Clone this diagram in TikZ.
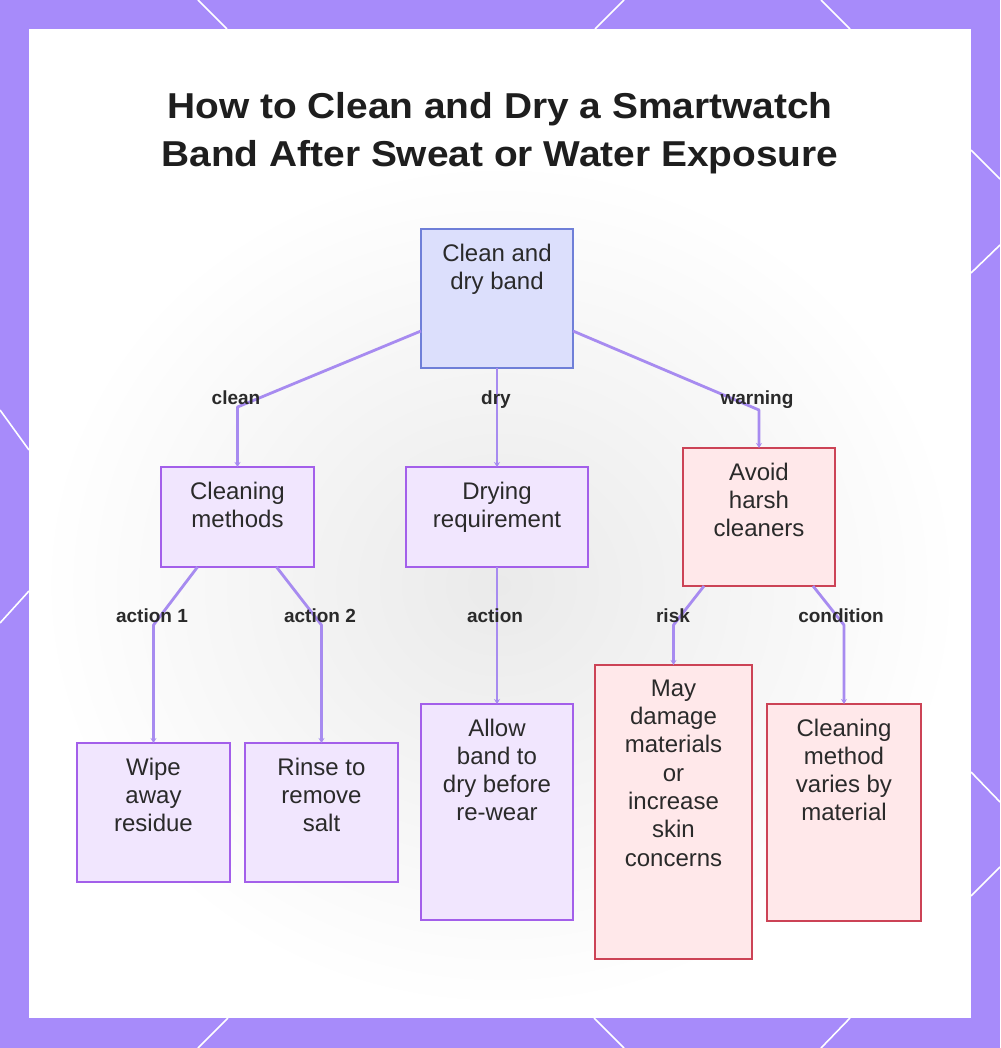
\documentclass[tikz,border=0pt]{standalone}
\usepackage{fontspec}
\setmainfont{Liberation Sans}
\newfontfamily\titlefont[FakeStretch=1.08]{Liberation Sans}
\usetikzlibrary{arrows.meta}
\definecolor{bgpurple}{HTML}{A78BFA}
\definecolor{rootfill}{HTML}{DCDFFC}
\definecolor{rootdraw}{HTML}{6F7FD8}
\definecolor{purfill}{HTML}{F1E6FE}
\definecolor{purdraw}{HTML}{A35FEA}
\definecolor{redfill}{HTML}{FFE8EA}
\definecolor{reddraw}{HTML}{CC4356}
\definecolor{edgecol}{HTML}{A78BF0}
\definecolor{ink}{HTML}{2A2A2A}
\definecolor{titleink}{HTML}{1E1E1E}
\definecolor{haze}{HTML}{EAEAEA}
\begin{document}
\begin{tikzpicture}[x=1pt,y=-1pt,
  boxbase/.style={rectangle, line width=2.7pt, inner sep=0pt, outer sep=0pt, anchor=north west},
  rootbox/.style={boxbase, fill=rootfill, draw=rootdraw},
  purbox/.style={boxbase, fill=purfill, draw=purdraw},
  redbox/.style={boxbase, fill=redfill, draw=reddraw},
  txt/.style={font=\fontsize{24}{28.3}\selectfont, text=ink, align=center, inner sep=0pt, anchor=north},
  lbl/.style={font=\fontsize{19}{22}\selectfont\bfseries, text=ink, inner sep=0pt, anchor=base},
  edge/.style={draw=edgecol, line width=2.8pt, line join=round, -{Stealth[length=5pt,width=6pt]}},
  deco/.style={draw=white, line width=1.6pt},
  title/.style={font=\titlefont\fontsize{36}{48}\selectfont\bfseries, text=titleink, align=center, inner sep=0pt, anchor=north}
]
\useasboundingbox (0,0) rectangle (1000,1048);
\fill[bgpurple] (0,0) rectangle (1000,1048);
% border decoration lines
\draw[deco] (198,0) -- (227,29);
\draw[deco] (624,0) -- (595,29);
\draw[deco] (821,0) -- (850,29);
\draw[deco] (228,1018) -- (198,1048);
\draw[deco] (594,1018) -- (624,1048);
\draw[deco] (850,1018) -- (821,1048);
\draw[deco] (0,410) -- (29,450);
\draw[deco] (29,591) -- (0,623);
\draw[deco] (971,150) -- (1000,179);
\draw[deco] (971,273) -- (1000,245);
\draw[deco] (971,772) -- (1000,802);
\draw[deco] (971,896) -- (1000,867);
% panel
\fill[white] (29,29) rectangle (971,1018);
\fill[inner color=haze, outer color=white] (40,160) rectangle (960,1010);

% title
\node[title] (title) at (500,92) {How to Clean and Dry a Smartwatch\\Band After Sweat or Water Exposure};

% boxes
\node[rootbox, minimum width=152pt, minimum height=139pt] (root) at (421,229) {};
\node[purbox, minimum width=153pt, minimum height=100pt] (cm) at (161,467) {};
\node[purbox, minimum width=182pt, minimum height=100pt] (dr) at (406,467) {};
\node[redbox, minimum width=152pt, minimum height=138pt] (av) at (683,448) {};
\node[purbox, minimum width=153pt, minimum height=139pt] (wp) at (77,743) {};
\node[purbox, minimum width=153pt, minimum height=139pt] (rs) at (245,743) {};
\node[purbox, minimum width=152pt, minimum height=216pt] (al) at (421,704) {};
\node[redbox, minimum width=157pt, minimum height=294pt] (md) at (595,665) {};
\node[redbox, minimum width=154pt, minimum height=217pt] (cv) at (767,704) {};

% box texts
\node[txt] (roott) at ([yshift=-14.5pt]root.north) {Clean and\\dry band};
\node[txt] (cmt) at ([yshift=-14.5pt]cm.north) {Cleaning\\methods};
\node[txt] (drt) at ([yshift=-14.5pt]dr.north) {Drying\\requirement};
\node[txt] (avt) at ([yshift=-14.5pt]av.north) {Avoid\\harsh\\cleaners};
\node[txt] (wpt) at ([yshift=-14.5pt]wp.north) {Wipe\\away\\residue};
\node[txt] (rst) at ([yshift=-14.5pt]rs.north) {Rinse to\\remove\\salt};
\node[txt] (alt) at ([yshift=-14.5pt]al.north) {Allow\\band to\\dry before\\re-wear};
\node[txt] (mdt) at ([yshift=-14.5pt]md.north) {May\\damage\\materials\\or\\increase\\skin\\concerns};
\node[txt] (cvt) at ([yshift=-14.5pt]cv.north) {Cleaning\\method\\varies by\\material};

% bend points
\coordinate (k1) at (237.5,407);
\coordinate (k3) at (759,410);
\coordinate (k4) at (153.5,625);
\coordinate (k5) at (321.5,625);
\coordinate (k6) at (673.5,625);
\coordinate (k7) at (844,625);

% connectors
\draw[edge] ([yshift=37pt]root.south west) -- (k1) -- (cm.north);
\draw[edge] (root.south) -- (dr.north);
\draw[edge] ([yshift=37pt]root.south east) -- (k3) -- (av.north);
\draw[edge] ([xshift=-40pt]cm.south) -- (k4) -- (wp.north);
\draw[edge] ([xshift=39pt]cm.south) -- (k5) -- (rs.north);
\draw[edge] (dr.south) -- (al.north);
\draw[edge] ([xshift=-55pt]av.south) -- (k6) -- (md.north);
\draw[edge] ([xshift=54pt]av.south) -- (k7) -- (cv.north);

% labels
\node[lbl] (l1) at (236,404) {clean};
\node[lbl] (l2) at (496,404) {dry};
\node[lbl] (l3) at (757,404) {warning};
\node[lbl] (l4) at (152,622) {action 1};
\node[lbl] (l5) at (320,622) {action 2};
\node[lbl] (l6) at (495,622) {action};
\node[lbl] (l7) at (673,622) {risk};
\node[lbl] (l8) at (841,622) {condition};
\end{tikzpicture}
\end{document}
